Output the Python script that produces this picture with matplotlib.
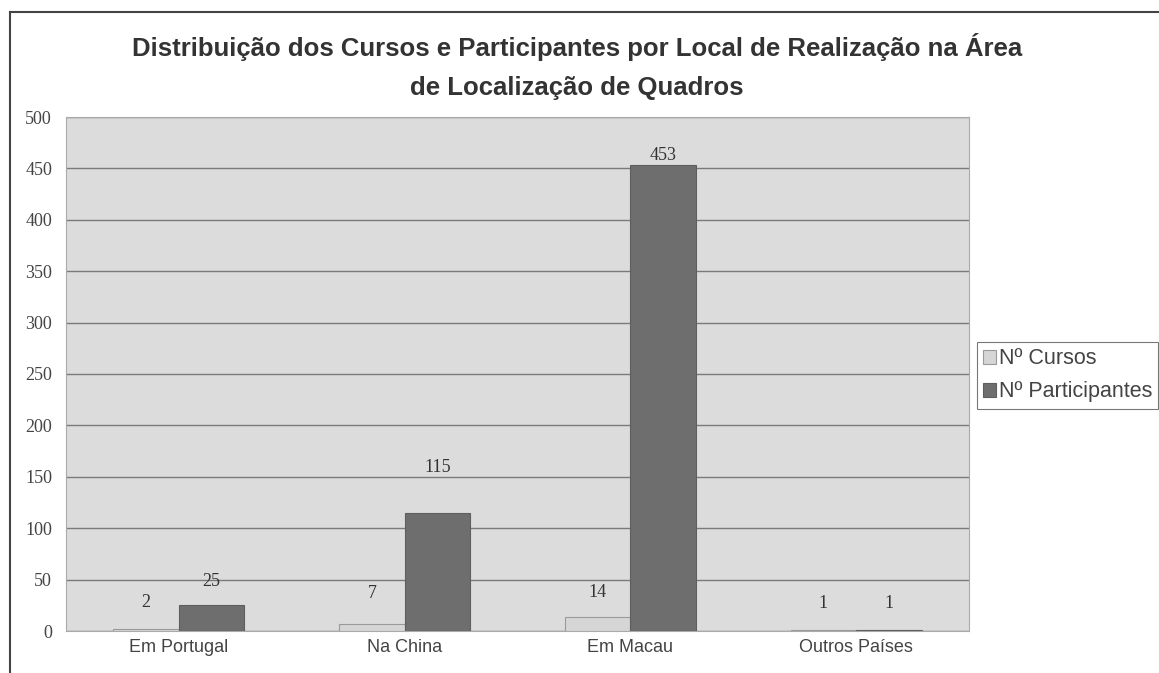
"""Distribuição dos cursos e participantes por local de realização (gráfico de barras agrupadas)."""
import matplotlib
matplotlib.use("Agg")
import matplotlib.pyplot as plt
import numpy as np
from matplotlib.lines import Line2D

locais = ["Em Portugal", "Na China", "Em Macau", "Outros Países"]
n_cursos = [2, 7, 14, 1]
n_participantes = [25, 115, 453, 1]
y_ticks = [0, 50, 100, 150, 200, 250, 300, 350, 400, 450, 500]

# vertical gap (pixels) between bar top and its value label, as in the original
gap_cursos = [18, 22, 16, 18]
gap_part = [15, 37, 1, 18]

W, H = 1159, 673
fig = plt.figure(figsize=(W / 100, H / 100), dpi=100)
fig.patch.set_facecolor("white")

# plot area in pixel terms
left, right, top, bottom = 66, 969, 117, 631
ax = fig.add_axes([left / W, 1 - bottom / H, (right - left) / W, (bottom - top) / H])
ax.set_facecolor("#dcdcdc")

x = np.arange(len(locais))
bw = 0.29
b1 = ax.bar(x - bw / 2, n_cursos, bw, color="#d6d6d6", edgecolor="#9a9a9a",
            linewidth=0.8, label="Nº Cursos", zorder=3)
b2 = ax.bar(x + bw / 2, n_participantes, bw, color="#6e6e6e", edgecolor="#5e5e5e",
            linewidth=0.8, label="Nº Participantes", zorder=3)

serif = ["Liberation Serif", "DejaVu Serif"]
sans = ["Liberation Sans", "DejaVu Sans"]
px = 500 / (bottom - top)  # data units per pixel
for bars, vals, gaps in ((b1, n_cursos, gap_cursos), (b2, n_participantes, gap_part)):
    for r, v, g in zip(bars, vals, gaps):
        ax.text(r.get_x() + r.get_width() / 2, v + g * px, str(v), ha="center",
                va="bottom", fontsize=13, family=serif, color="#333333", zorder=4)

ax.set_xlim(-0.5, len(locais) - 0.5)
ax.set_ylim(0, 500)
ax.set_yticks(y_ticks)
ax.set_yticklabels([str(t) for t in y_ticks], family=serif, fontsize=13, color="#444444")
ax.set_xticks(x)
ax.set_xticklabels(locais, family=sans, fontsize=13, color="#444444")
ax.tick_params(length=0, pad=10)
ax.tick_params(axis="x", pad=6)
ax.yaxis.grid(True, color="#7a7a7a", linewidth=1.0, zorder=1)
ax.set_axisbelow(True)
for s in ax.spines.values():
    s.set_color("#aaaaaa")
    s.set_linewidth(0.8)

title_kw = dict(ha="center", va="center", fontsize=18.5, fontweight="bold",
                family=sans, color="#333333")
fig.text(577 / W, 1 - 47 / H,
         "Distribuição dos Cursos e Participantes por Local de Realização na Área", **title_kw)
fig.text(577 / W, 1 - 88 / H, "de Localização de Quadros", **title_kw)

leg = fig.legend(handles=[b1, b2], loc="upper left",
                 bbox_to_anchor=(977 / W, 1 - 342 / H), prop={"family": sans, "size": 15.5},
                 frameon=True, fancybox=False, handlelength=0.6, handleheight=0.6,
                 handletextpad=0.1, borderpad=0.3, labelspacing=0.55, borderaxespad=0)
leg.get_frame().set_edgecolor("#555555")
leg.get_frame().set_linewidth(0.8)
for txt in leg.get_texts():
    txt.set_color("#444444")

# outer chart frame (top and left edges visible)
fig.add_artist(Line2D([10 / W, 10 / W], [0, 1 - 12 / H], transform=fig.transFigure,
                      color="#444444", linewidth=1.5))
fig.add_artist(Line2D([10 / W, 1], [1 - 12 / H, 1 - 12 / H], transform=fig.transFigure,
                      color="#444444", linewidth=1.5))

fig.savefig("out.png", dpi=100)
